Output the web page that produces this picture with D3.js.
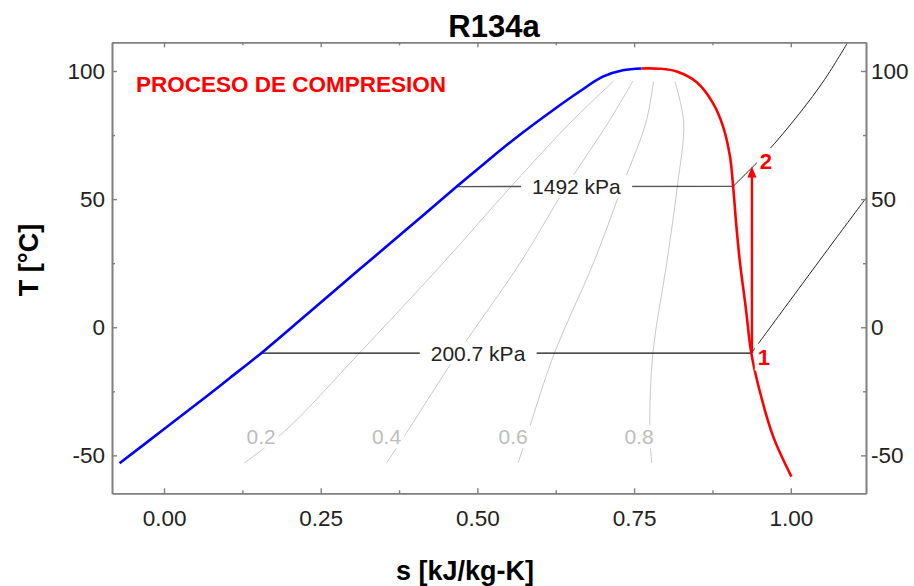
<!DOCTYPE html>
<html>
<head>
<meta charset="utf-8">
<script src="https://cdn.jsdelivr.net/npm/d3@7"></script>
<style>
  body { margin: 0; background: #fff; }
  text { font-family: "Liberation Sans", Arial, sans-serif; }
</style>
</head>
<body>
<svg id="chart" width="914" height="586"></svg>
<script>
/* Saturation dome (s in kJ/kg-K, T in C) */
var liqS = [-0.071, -0.004, 0.065, 0.105, 0.155, 0.230, 0.310, 0.390, 0.467, 0.514, 0.557, 0.621, 0.663, 0.700, 0.732, 0.762];
var liqT = [-53.1, -40.5, -27.5, -19.8, -10.1, 5.5, 22.2, 38.8, 54.9, 64.5, 73.1, 84.8, 92.0, 97.8, 100.3, 101.0];
var vapS = [0.762, 0.791, 0.818, 0.850, 0.876, 0.892, 0.903, 0.908, 0.913, 0.919, 0.928, 0.937, 0.950, 0.972, 1.001];
var vapT = [101.0, 100.9, 99.8, 95.6, 87.4, 78.3, 66.6, 55.0, 40.0, 25.0, 8.0, -10.1, -24.5, -42.7, -58.3];

/* Quality lines */
var qualNames = ['0.2', '0.4', '0.6', '0.8'];
var qualT = [-53, -40, -10, 25, 55, 80, 96];
var qualS = [
  [0.128, 0.195, 0.312, 0.445, 0.554, 0.649, 0.717],
  [0.355, 0.390, 0.469, 0.568, 0.642, 0.709, 0.748],
  [0.565, 0.582, 0.623, 0.685, 0.731, 0.769, 0.781],
  [0.778, 0.775, 0.780, 0.802, 0.819, 0.829, 0.815]
];
var qualLabelS = [0.155, 0.355, 0.557, 0.758];
var qualLabelT = -42.7;

/* Isobars: first segment is inside the dome, the rest superheated */
var isoNames = ['1492 kPa', '200.7 kPa'];
var isoS = [
  [0.465, 0.908, 0.961, 1.014, 1.054, 1.091],
  [0.155, 0.937, 1.070, 1.120]
];
var isoT = [
  [54.9, 55.0, 68.1, 83.5, 96.7, 111.2],
  [-10.1, -10.1, 34.0, 50.4]
];
var isoLabelS = [0.658, 0.501];

/* Compression process states */
var stateNames = ['1', '2'];
var stateS = [0.938, 0.938];
var stateT = [-10.1, 62.7];

/* Ticks */
var xTicks = [0, 0.25, 0.5, 0.75, 1.0];
var xMinor = [0.125, 0.375, 0.625, 0.875];
var yTicks = [-50, 0, 50, 100];
var yMinor = [-25, 25, 75];

var svg = d3.select('#chart');
var pLeft = 112, pRight = 866, pTop = 42.3, pBottom = 493.3;

var x = d3.scaleLinear().domain([-0.083, 1.12]).range([pLeft, pRight]);
var y = d3.scaleLinear().domain([-64.8, 111.2]).range([pBottom, pTop]);

var line = d3.line()
  .x(function (d) { return x(d[0]); })
  .y(function (d) { return y(d[1]); })
  .curve(d3.curveCatmullRom);
var straight = d3.line()
  .x(function (d) { return x(d[0]); })
  .y(function (d) { return y(d[1]); });

svg.append('defs').append('clipPath').attr('id', 'clip')
  .append('rect')
  .attr('x', pLeft).attr('y', pTop)
  .attr('width', pRight - pLeft).attr('height', pBottom - pTop);

var plot = svg.append('g').attr('clip-path', 'url(#clip)');

/* Quality lines */
plot.selectAll('path.qual')
  .data(qualS)
  .join('path')
  .classed('qual', true)
  .attr('d', function (d) { return line(d3.zip(d, qualT)); })
  .attr('fill', 'none')
  .attr('stroke', '#c8c8c8')
  .attr('stroke-width', 1);

/* Isobars */
isoS.forEach(function (sArr, i) {
  var pts = d3.zip(sArr, isoT[i]);
  plot.append('path')
    .attr('d', straight(pts.slice(0, 2)))
    .attr('fill', 'none')
    .attr('stroke', i === 0 ? '#555' : '#111')
    .attr('stroke-width', 1.3);
  plot.append('path')
    .attr('d', line(pts.slice(1)))
    .attr('fill', 'none')
    .attr('stroke', '#222')
    .attr('stroke-width', 1);
});

/* Text with white box behind it, to cut the lines */
function boxedText(g, tx, ty, str, opts) {
  var t = g.append('text')
    .attr('x', tx).attr('y', ty)
    .attr('text-anchor', 'middle')
    .attr('dominant-baseline', 'central')
    .attr('font-size', opts.size)
    .attr('font-weight', opts.weight || 'normal')
    .attr('fill', opts.color)
    .text(str);
  var bb = t.node().getBBox();
  g.insert('rect', function () { return t.node(); })
    .attr('x', bb.x - opts.padX).attr('y', bb.y - opts.padY)
    .attr('width', bb.width + 2 * opts.padX).attr('height', bb.height + 2 * opts.padY)
    .attr('fill', '#fff');
  return t;
}

var labels = svg.append('g');
qualNames.forEach(function (q, i) {
  boxedText(labels, x(qualLabelS[i]), y(qualLabelT), q,
    { size: 21, color: '#bdbdbd', padX: 3, padY: 0 });
});
isoNames.forEach(function (n, i) {
  boxedText(labels, x(isoLabelS[i]), y(isoT[i][0]), n,
    { size: 21, color: '#222', padX: 11, padY: 0 });
});

/* State label boxes first, then dome and arrow on top, then state text */
var stateOff = [[12, 4], [14, -5]];
var stateG = svg.append('g');
stateNames.forEach(function (n, i) {
  var t = boxedText(stateG, x(stateS[i]) + stateOff[i][0], y(stateT[i]) + stateOff[i][1], n,
    { size: 22, weight: 'bold', color: '#ff0000', padX: 3, padY: 1 });
  t.remove();
});

/* Saturation dome */
plot.append('path')
  .attr('d', line(d3.zip(liqS, liqT)))
  .attr('fill', 'none').attr('stroke', '#0000ff').attr('stroke-width', 2.6);
plot.append('path')
  .attr('d', line(d3.zip(vapS, vapT)))
  .attr('fill', 'none').attr('stroke', '#ff0000').attr('stroke-width', 2.6);

/* Compression arrow 1 -> 2 */
var ax = x(stateS[0]), ay1 = y(stateT[0]), ay2 = y(stateT[1]);
svg.append('line')
  .attr('x1', ax).attr('y1', ay1)
  .attr('x2', ax).attr('y2', ay2 + 9)
  .attr('stroke', '#ff0000').attr('stroke-width', 2.4);
svg.append('path')
  .attr('d', 'M' + ax + ',' + ay2 + 'L' + (ax - 4.5) + ',' + (ay2 + 11) + 'L' + (ax + 4.5) + ',' + (ay2 + 11) + 'Z')
  .attr('fill', '#ff0000');

stateNames.forEach(function (n, i) {
  svg.append('text')
    .attr('x', x(stateS[i]) + stateOff[i][0])
    .attr('y', y(stateT[i]) + stateOff[i][1])
    .attr('text-anchor', 'middle')
    .attr('dominant-baseline', 'central')
    .attr('font-size', 22).attr('font-weight', 'bold')
    .attr('fill', '#ff0000')
    .text(n);
});

/* Axes, ticks pointing inward */
function styleAxis(g) {
  g.selectAll('.domain').attr('stroke', '#808080').attr('stroke-width', 1.6);
  g.selectAll('.tick line').attr('stroke', '#808080').attr('stroke-width', 1.4);
  g.selectAll('.tick text').attr('fill', '#222').attr('font-size', 22.5)
    .attr('font-family', '"Liberation Sans", Arial, sans-serif');
}

var fmt2 = d3.format('.2f');
var fmtT = function (d) { return String(d); };
svg.append('g').attr('transform', 'translate(0,' + pBottom + ')')
  .call(d3.axisBottom(x).tickValues(xTicks).tickFormat(fmt2).tickSizeInner(-5).tickSizeOuter(0).tickPadding(17))
  .call(styleAxis);
svg.append('g').attr('transform', 'translate(0,' + pBottom + ')')
  .call(d3.axisBottom(x).tickValues(xMinor).tickFormat('').tickSizeInner(-3).tickSizeOuter(0))
  .call(styleAxis);
svg.append('g').attr('transform', 'translate(0,' + pTop + ')')
  .call(d3.axisTop(x).tickValues(xTicks).tickFormat('').tickSizeInner(-5).tickSizeOuter(0))
  .call(styleAxis);
svg.append('g').attr('transform', 'translate(0,' + pTop + ')')
  .call(d3.axisTop(x).tickValues(xMinor).tickFormat('').tickSizeInner(-3).tickSizeOuter(0))
  .call(styleAxis);

svg.append('g').attr('transform', 'translate(' + pLeft + ',0)')
  .call(d3.axisLeft(y).tickValues(yTicks).tickFormat(fmtT).tickSizeInner(-5).tickSizeOuter(0).tickPadding(7))
  .call(styleAxis);
svg.append('g').attr('transform', 'translate(' + pLeft + ',0)')
  .call(d3.axisLeft(y).tickValues(yMinor).tickFormat('').tickSizeInner(-3).tickSizeOuter(0))
  .call(styleAxis);
svg.append('g').attr('transform', 'translate(' + pRight + ',0)')
  .call(d3.axisRight(y).tickValues(yTicks).tickFormat(fmtT).tickSizeInner(-5).tickSizeOuter(0).tickPadding(5))
  .call(styleAxis);
svg.append('g').attr('transform', 'translate(' + pRight + ',0)')
  .call(d3.axisRight(y).tickValues(yMinor).tickFormat('').tickSizeInner(-3).tickSizeOuter(0))
  .call(styleAxis);

/* Titles */
svg.append('text')
  .attr('x', 494).attr('y', 37)
  .attr('text-anchor', 'middle')
  .attr('font-size', 31).attr('font-weight', 'bold')
  .text('R134a');

svg.append('text')
  .attr('x', 136).attr('y', 91.5)
  .attr('font-size', 22.5).attr('font-weight', 'bold')
  .attr('fill', '#ff0000')
  .text('PROCESO DE COMPRESION');

svg.append('text')
  .attr('x', 465).attr('y', 580)
  .attr('text-anchor', 'middle')
  .attr('font-size', 27).attr('font-weight', 'bold')
  .text('s [kJ/kg-K]');

svg.append('text')
  .attr('transform', 'translate(38,260) rotate(-90)')
  .attr('text-anchor', 'middle')
  .attr('font-size', 27).attr('font-weight', 'bold')
  .text('T [°C]');
</script>
</body>
</html>
